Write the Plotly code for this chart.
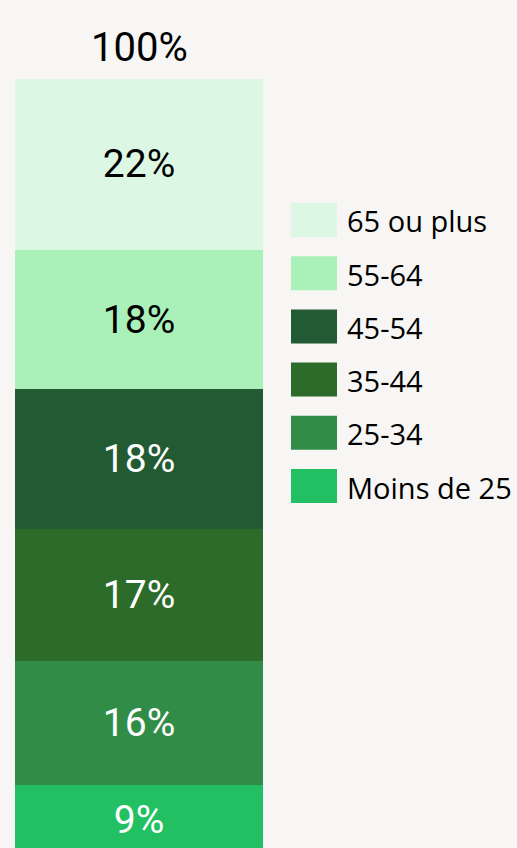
import plotly.graph_objects as go

# Data (bottom to top)
categories = ["Moins de 25", "25-34", "35-44", "45-54", "55-64", "65 ou plus"]
values = [9, 16, 17, 18, 18, 22]
colors = ["#22c063", "#318c48", "#2c6b2a", "#225a33", "#a9f0b9", "#dcf7e3"]
text_colors = ["#ffffff", "#ffffff", "#ffffff", "#ffffff", "#000000", "#000000"]
bar_name = "Total"

W, H = 517, 848
ML, MR, MT, MB = 15, 254, 79, 0
plot_w = W - ML - MR
plot_h = H - MT - MB

LABEL_FONT = "Roboto, Liberation Sans, sans-serif"

fig = go.Figure()
for cat, v, c, tc in zip(categories, values, colors, text_colors):
    fig.add_trace(go.Bar(
        x=[bar_name], y=[v], name=cat,
        marker=dict(color=c, line=dict(width=0)),
        width=1,
        text=[f"{v}%"], textposition="inside", insidetextanchor="middle",
        textfont=dict(family=LABEL_FONT, size=39, color=tc),
        constraintext="none",
        showlegend=False, hoverinfo="skip",
    ))

total = sum(values)
annotations = [dict(
    x=bar_name, y=total, xref="x", yref="y", text=f"{total}%",
    showarrow=False, yanchor="bottom", yshift=6,
    font=dict(family=LABEL_FONT, size=40, color="#000000"),
)]


def px_to_paper_x(px):
    return (px - ML) / plot_w


def px_to_paper_y(py):
    return 1 - (py - MT) / plot_h


# Custom legend (top to bottom)
shapes = []
leg_x0, leg_x1 = 291, 337
leg_top_center = 220
leg_step = 53.2
sw_h = 34
for i, (cat, c) in enumerate(zip(categories[::-1], colors[::-1])):
    cy = leg_top_center + i * leg_step
    shapes.append(dict(
        type="rect", xref="paper", yref="paper",
        x0=px_to_paper_x(leg_x0), x1=px_to_paper_x(leg_x1),
        y0=px_to_paper_y(cy + sw_h / 2), y1=px_to_paper_y(cy - sw_h / 2),
        fillcolor=c, line=dict(width=0), layer="above",
    ))
    annotations.append(dict(
        x=px_to_paper_x(345), y=px_to_paper_y(cy + 1), xref="paper", yref="paper",
        text=cat, showarrow=False, xanchor="left", yanchor="middle",
        font=dict(family="Open Sans, Noto Sans, sans-serif", size=29, color="#000000"),
    ))

fig.update_layout(
    width=W, height=H,
    margin=dict(l=ML, r=MR, t=MT, b=MB, pad=0),
    barmode="stack",
    paper_bgcolor="#f7f6f4", plot_bgcolor="#f7f6f4",
    xaxis=dict(visible=False, range=[-0.5, 0.5], fixedrange=True),
    yaxis=dict(visible=False, range=[0.88, 100], fixedrange=True),
    shapes=shapes, annotations=annotations,
    showlegend=False,
)

fig.write_html(
    "out.html",
    config={"displayModeBar": False},
    post_script="document.body.style.margin='0';document.body.style.overflow='hidden';document.body.style.background='#f7f6f4';",
)
